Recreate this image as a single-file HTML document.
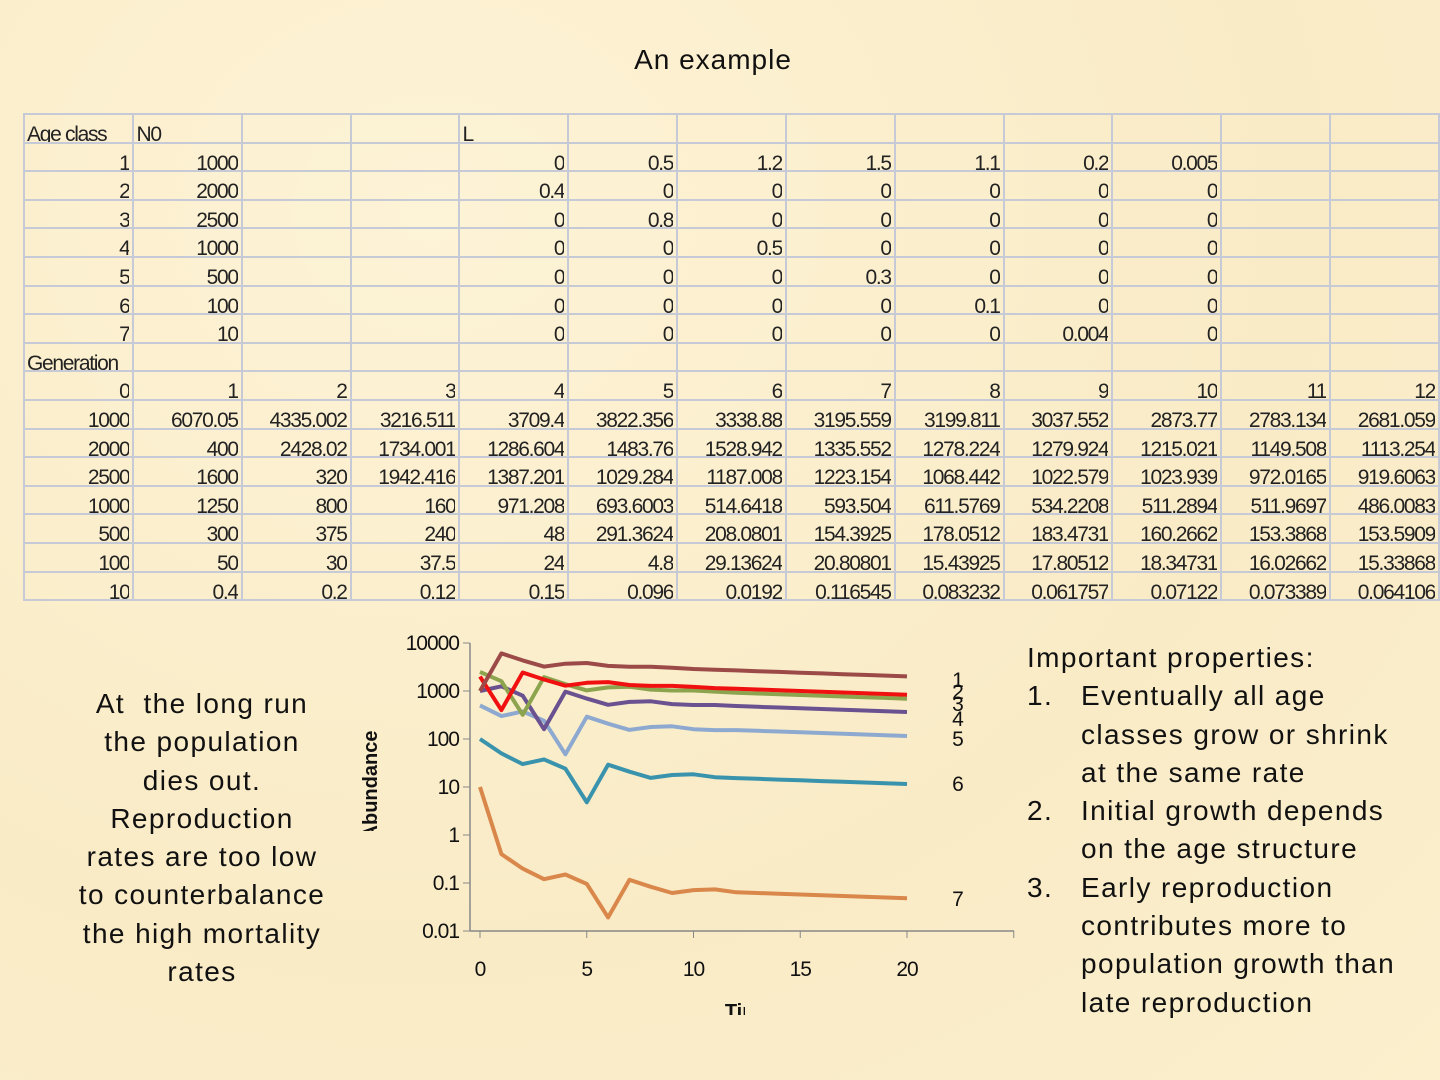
<!DOCTYPE html>
<html><head><meta charset="utf-8"><style>
html,body{margin:0;padding:0}
body{width:1440px;height:1080px;overflow:hidden;background:#fbefcd;background-image:radial-gradient(ellipse at 30% 20%,#fdf3d6 0,#f9ebc6 60%,#fbefcd 100%);font-family:"Liberation Sans",sans-serif;position:relative;color:#111}
.t{position:absolute;white-space:nowrap}
table{position:absolute;left:23px;top:113px;border-collapse:collapse;table-layout:fixed}
td{width:103px;height:26.6px;border:2px solid #c6cad6;padding:0 3px 0 2px;font-size:21px;letter-spacing:-1.3px;overflow:hidden;text-align:right;vertical-align:bottom;color:#222}
td div{height:26.6px;overflow:hidden;line-height:40px}
td.l{text-align:left}
.side{position:absolute;font-size:28px;line-height:38.3px;color:#111;letter-spacing:1.4px}
</style></head><body>
<div class="t" style="left:0;width:1426px;text-align:center;top:44px;font-size:28px;letter-spacing:1px">An example</div>
<table id="tb"></table>
<svg id="ch" width="1440" height="1080" style="position:absolute;left:0;top:0"></svg>
<div class="side" style="left:72px;width:260px;top:685px;text-align:center">At &nbsp;the long run the population dies out. Reproduction rates are too low to counterbalance the high mortality rates</div>
<div class="side" style="left:1027px;top:639px;width:385px">
<div>Important properties:</div>
<div style="position:relative;padding-left:54px"><span style="position:absolute;left:0">1.</span>Eventually all age classes grow or shrink at the same rate</div>
<div style="position:relative;padding-left:54px"><span style="position:absolute;left:0">2.</span>Initial growth depends on the age structure</div>
<div style="position:relative;padding-left:54px"><span style="position:absolute;left:0">3.</span>Early reproduction contributes more to population growth than late reproduction</div>
</div>
<script>
var rows=[
["Age class","N0","","","L","","","","","","","",""],
["1","1000","","","0","0.5","1.2","1.5","1.1","0.2","0.005","",""],
["2","2000","","","0.4","0","0","0","0","0","0","",""],
["3","2500","","","0","0.8","0","0","0","0","0","",""],
["4","1000","","","0","0","0.5","0","0","0","0","",""],
["5","500","","","0","0","0","0.3","0","0","0","",""],
["6","100","","","0","0","0","0","0.1","0","0","",""],
["7","10","","","0","0","0","0","0","0.004","0","",""],
["Generation","","","","","","","","","","","",""],
["0","1","2","3","4","5","6","7","8","9","10","11","12"],
["1000","6070.05","4335.002","3216.511","3709.4","3822.356","3338.88","3195.559","3199.811","3037.552","2873.77","2783.134","2681.059"],
["2000","400","2428.02","1734.001","1286.604","1483.76","1528.942","1335.552","1278.224","1279.924","1215.021","1149.508","1113.254"],
["2500","1600","320","1942.416","1387.201","1029.284","1187.008","1223.154","1068.442","1022.579","1023.939","972.0165","919.6063"],
["1000","1250","800","160","971.208","693.6003","514.6418","593.504","611.5769","534.2208","511.2894","511.9697","486.0083"],
["500","300","375","240","48","291.3624","208.0801","154.3925","178.0512","183.4731","160.2662","153.3868","153.5909"],
["100","50","30","37.5","24","4.8","29.13624","20.80801","15.43925","17.80512","18.34731","16.02662","15.33868"],
["10","0.4","0.2","0.12","0.15","0.096","0.0192","0.116545","0.083232","0.061757","0.07122","0.073389","0.064106"]];
var h="";
rows.forEach(function(r,i){h+="<tr>";r.forEach(function(c,j){var l=(i==0&&(j==0||j==1||j==4))||(i==8&&j==0);h+='<td class="'+(l?'l':'')+'"><div>'+c+'</div></td>';});h+="</tr>";});
document.getElementById("tb").innerHTML=h;
var S=[],cols=["#9b4a48","#f01010","#8ca44e","#6a5190","#8ea9cf","#3a93ad","#d9874a"];
for(var k=0;k<7;k++){var a=[];for(var t=0;t<=12;t++)a.push(parseFloat(rows[10+k][t]));var last=a[12];for(var t=13;t<=20;t++){last*=0.965;a.push(last);}S.push(a);}
function X(t){return 480+t*21.35}function Y(v){return 643+(4-Math.log10(v))*48}
var s='<defs><clipPath id="c1"><rect x="350" y="715" width="40" height="116"/></clipPath><clipPath id="c2"><rect x="700" y="990" width="45" height="25"/></clipPath></defs><g font-family="Liberation Sans" font-size="21" letter-spacing="-1" fill="#111">';
var yl=["10000","1000","100","10","1","0.1","0.01"];
for(var i=0;i<7;i++){var y=643+i*48;s+='<text x="459" y="'+(y+7)+'" text-anchor="end">'+yl[i]+'</text><line x1="463" x2="470" y1="'+y+'" y2="'+y+'" stroke="#888"/>';}
s+='<line x1="470" x2="470" y1="643" y2="931" stroke="#888" stroke-width="1.5"/><line x1="470" x2="1014" y1="931" y2="931" stroke="#888" stroke-width="1.5"/>';
for(var t=0;t<=25;t+=5){var x=X(t);s+='<line x1="'+x+'" x2="'+x+'" y1="931" y2="938" stroke="#888"/>';if(t<25)s+='<text x="'+x+'" y="976" text-anchor="middle">'+t+'</text>';}
s+='</g>';
for(var k=6;k>=0;k--){var p=S[k].map(function(v,t){return X(t).toFixed(1)+","+Y(v).toFixed(1)}).join(" ");s+='<polyline points="'+p+'" fill="none" stroke="'+cols[k]+'" stroke-width="4" stroke-linejoin="round"/>';}
var ly=[680,692,704,719,739,784,899];
for(var k=0;k<7;k++)s+='<text x="958" y="'+(ly[k]+7)+'" text-anchor="middle" font-family="Liberation Sans" font-size="21" fill="#111">'+(k+1)+'</text>';
s+='<g clip-path="url(#c1)"><text transform="translate(377,785) rotate(-90)" font-family="Liberation Sans" font-weight="bold" font-size="20" text-anchor="middle" fill="#111">Abundance</text></g>';
s+='<g clip-path="url(#c2)"><text x="748" y="1018" font-family="Liberation Sans" font-weight="bold" font-size="20" text-anchor="middle" fill="#111">Time</text></g>';
document.getElementById("ch").innerHTML=s;
</script>
</body></html>
